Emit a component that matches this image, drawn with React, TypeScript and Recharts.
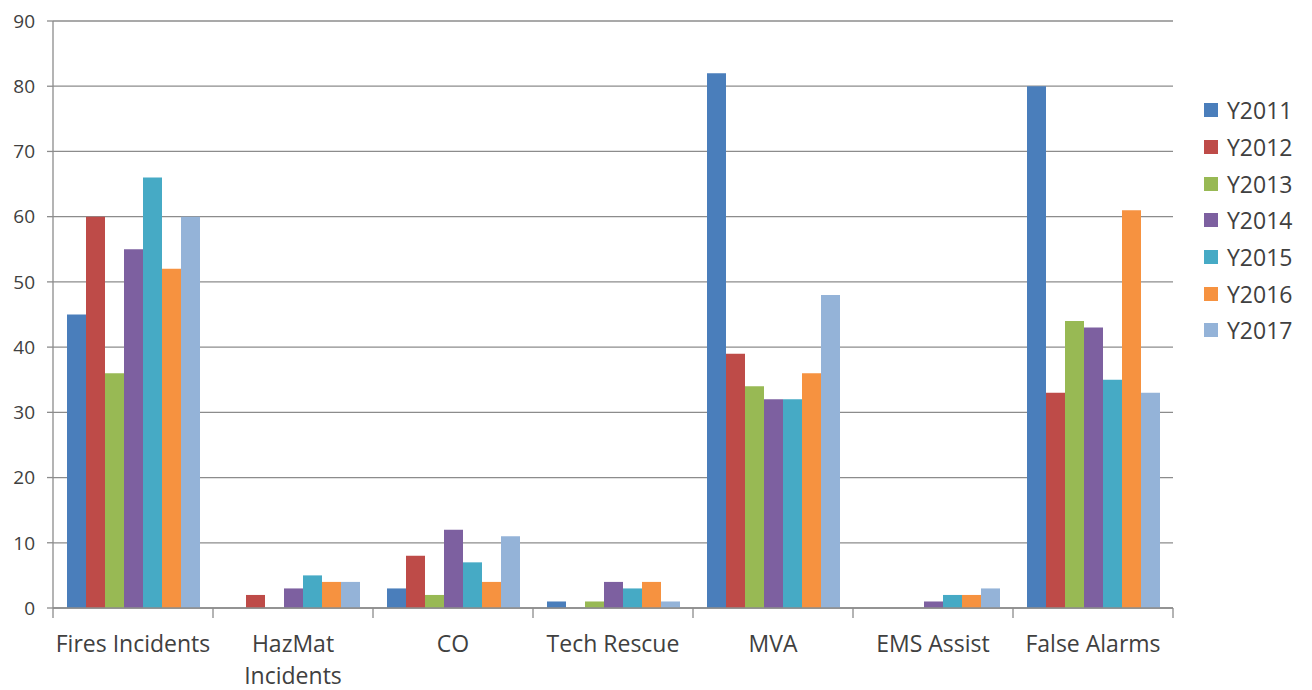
import { BarChart, Bar, XAxis, YAxis, CartesianGrid, Legend } from 'recharts';

// ─── Data ─────────────────────────────────────────────────────────────────────

const CATEGORIES = [
  'Fires Incidents',
  'HazMat Incidents',
  'CO',
  'Tech Rescue',
  'MVA',
  'EMS Assist',
  'False Alarms',
];

// how each category label is broken over lines under the axis
const CATEGORY_LINES: Record<string, string[]> = {
  'HazMat Incidents': ['HazMat', 'Incidents'],
};

const SERIES = ['Y2011', 'Y2012', 'Y2013', 'Y2014', 'Y2015', 'Y2016', 'Y2017'];

const Y2011 = [45, 0, 3, 1, 82, 0, 80];
const Y2012 = [60, 2, 8, 0, 39, 0, 33];
const Y2013 = [36, 0, 2, 1, 34, 0, 44];
const Y2014 = [55, 3, 12, 4, 32, 1, 43];
const Y2015 = [66, 5, 7, 3, 32, 2, 35];
const Y2016 = [52, 4, 4, 4, 36, 2, 61];
const Y2017 = [60, 4, 11, 1, 48, 3, 33];

const Y_TICKS = [0, 10, 20, 30, 40, 50, 60, 70, 80, 90];

const COLORS = ['#4A7EBB', '#BE4B48', '#98B954', '#7D60A0', '#46AAC5', '#F69240', '#94B3D8'];

const VALUES = [Y2011, Y2012, Y2013, Y2014, Y2015, Y2016, Y2017];

const chartData = CATEGORIES.map((name, i) => {
  const row: Record<string, string | number> = { name };
  SERIES.forEach((s, j) => {
    row[s] = VALUES[j][i];
  });
  return row;
});

// ─── Layout ───────────────────────────────────────────────────────────────────

const WIDTH = 1296;
const HEIGHT = 682;
const LEGEND_WIDTH = 100;
const MARGIN = { top: 13, right: 31, left: 0, bottom: 12 };
const Y_WIDTH = 45;
const PLOT_WIDTH = WIDTH - MARGIN.left - MARGIN.right - LEGEND_WIDTH - Y_WIDTH;
const BAND = PLOT_WIDTH / CATEGORIES.length;

const FONT = '"Open Sans", "Liberation Sans", sans-serif';
const AXIS_GRAY = '#8c8c8c';
const TEXT_COLOR = '#404040';

// ─── Custom X tick (Excel style: tick marks between categories) ───────────────

function CategoryTick(props: any) {
  const { x, y, payload, index } = props;
  const lines = CATEGORY_LINES[payload.value] ?? [payload.value];
  const isLast = index === CATEGORIES.length - 1;
  return (
    <g>
      <line x1={x - BAND / 2} x2={x - BAND / 2} y1={y - 8} y2={y + 2} stroke={AXIS_GRAY} strokeWidth={1.3} />
      {isLast && (
        <line x1={x + BAND / 2} x2={x + BAND / 2} y1={y - 8} y2={y + 2} stroke={AXIS_GRAY} strokeWidth={1.3} />
      )}
      <text x={x} y={y + 36} textAnchor="middle" fontSize={23} fill={TEXT_COLOR} fontFamily={FONT}>
        {lines.map((line, i) => (
          <tspan key={line} x={x} dy={i === 0 ? 0 : 32}>
            {line}
          </tspan>
        ))}
      </text>
    </g>
  );
}

// ─── Legend ───────────────────────────────────────────────────────────────────

function SeriesLegend() {
  return (
    <div style={{ fontFamily: FONT, fontSize: 23, color: TEXT_COLOR }}>
      {SERIES.map((s, i) => (
        <div key={s} style={{ display: 'flex', alignItems: 'center', height: 36.7 }}>
          <span
            style={{
              display: 'inline-block',
              width: 14,
              height: 14,
              backgroundColor: COLORS[i],
              marginRight: 9,
            }}
          />
          <span>{s}</span>
        </div>
      ))}
    </div>
  );
}

// ─── Main Component ───────────────────────────────────────────────────────────

export default function App() {
  return (
    <div style={{ width: WIDTH, height: HEIGHT, background: '#fff' }}>
      <BarChart
        width={WIDTH}
        height={HEIGHT}
        data={chartData}
        margin={MARGIN}
        barCategoryGap={14}
        barGap={0}
      >
        <CartesianGrid vertical={false} stroke={AXIS_GRAY} strokeWidth={1.3} />
        <XAxis
          dataKey="name"
          interval={0}
          height={70}
          stroke={AXIS_GRAY}
          strokeWidth={1.3}
          tickLine={false}
          tick={<CategoryTick />}
        />
        <YAxis
          width={Y_WIDTH}
          domain={[0, 90]}
          ticks={Y_TICKS}
          interval={0}
          stroke={AXIS_GRAY}
          strokeWidth={1.3}
          tickSize={6}
          tickMargin={12}
          tick={{ fontSize: 19, fill: TEXT_COLOR, fontFamily: FONT }}
        />
        <Legend
          layout="vertical"
          align="right"
          verticalAlign="top"
          wrapperStyle={{ left: 1196, top: 84, width: LEGEND_WIDTH }}
          content={<SeriesLegend />}
        />
        {SERIES.map((s, i) => (
          <Bar key={s} dataKey={s} fill={COLORS[i]} isAnimationActive={false} />
        ))}
      </BarChart>
    </div>
  );
}
